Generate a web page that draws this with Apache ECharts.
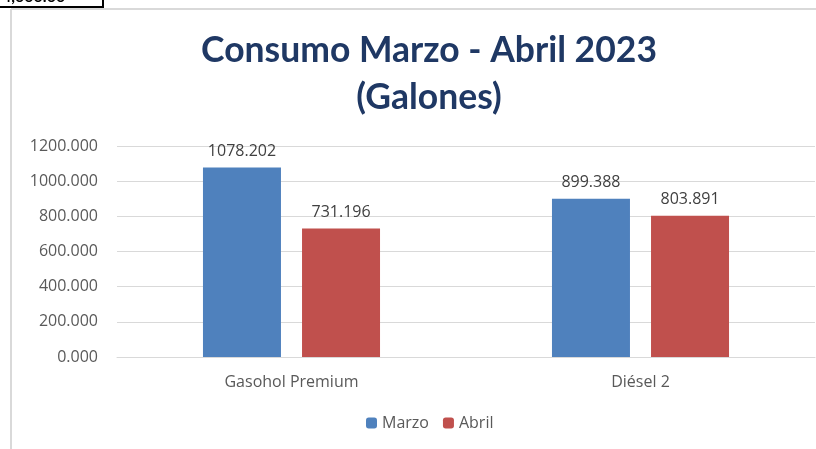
<!DOCTYPE html>
<html>
<head>
<meta charset="utf-8">
<script src="https://cdn.jsdelivr.net/npm/echarts@6/dist/echarts.min.js"></script>
<style>
  html, body { margin: 0; padding: 0; background: #fff; }
  #chart { width: 816px; height: 449px; }
</style>
</head>
<body>
<div id="chart"></div>
<script>
var categories = ['Gasohol Premium', 'Diésel 2'];
var marzo = [1078.202, 899.388];
var abril = [731.196, 803.891];

var labelStyle = {
    show: true,
    position: 'top',
    distance: 8,
    color: '#404040',
    fontSize: 16,
    fontFamily: 'Open Sans',
    formatter: function (p) { return p.value.toFixed(3); }
};

var option = {
    animation: false,
    backgroundColor: '#fff',
    title: {
        text: 'Consumo Marzo - Abril 2023\n(Galones)',
        left: 424,
        textAlign: 'center',
        top: 22,
        textStyle: {
            color: '#1F3864',
            fontSize: 35.5,
            fontWeight: 'bold',
            fontFamily: 'Lato',
            lineHeight: 47
        }
    },
    legend: {
        bottom: 13,
        left: 361,
        itemWidth: 11,
        itemHeight: 11,
        itemGap: 14,
        textStyle: { color: '#595959', fontSize: 16, fontFamily: 'Open Sans' },
        data: ['Marzo', 'Abril']
    },
    grid: {
        left: 117,
        right: 1,
        top: 146,
        bottom: 92
    },
    xAxis: {
        type: 'category',
        data: categories,
        axisLine: { lineStyle: { color: '#d9d9d9' } },
        axisTick: { show: false },
        axisLabel: { color: '#595959', fontSize: 16, fontFamily: 'Open Sans', margin: 17 }
    },
    yAxis: {
        type: 'value',
        min: 0,
        max: 1200,
        interval: 200,
        axisLine: { show: false },
        axisTick: { show: false },
        splitLine: { lineStyle: { color: '#d9d9d9' } },
        axisLabel: {
            color: '#595959',
            fontSize: 16,
            fontFamily: 'Open Sans',
            margin: 19,
            formatter: function (v) { return v.toFixed(3); }
        }
    },
    graphic: [
        { type: 'line', shape: { x1: 11, y1: 9, x2: 816, y2: 9 }, style: { stroke: '#d9d9d9', lineWidth: 2 } },
        { type: 'line', shape: { x1: 11, y1: 9, x2: 11, y2: 449 }, style: { stroke: '#d9d9d9', lineWidth: 2 } },
        { type: 'line', shape: { x1: 0, y1: 7, x2: 103, y2: 7 }, style: { stroke: '#000', lineWidth: 2 } },
        { type: 'line', shape: { x1: 103, y1: 0, x2: 103, y2: 8 }, style: { stroke: '#000', lineWidth: 2 } },
        { type: 'text', left: 2, top: -11, style: { text: '4,000.00', fill: '#000', font: 'bold 16px Lato' } }
    ],
    series: [
        {
            name: 'Marzo',
            type: 'bar',
            barWidth: 78,
            barGap: '27%',
            itemStyle: { color: '#4F81BD' },
            label: labelStyle,
            data: marzo
        },
        {
            name: 'Abril',
            type: 'bar',
            barWidth: 78,
            itemStyle: { color: '#C0504D' },
            label: labelStyle,
            data: abril
        }
    ]
};

echarts.init(document.getElementById('chart')).setOption(option);
</script>
</body>
</html>
